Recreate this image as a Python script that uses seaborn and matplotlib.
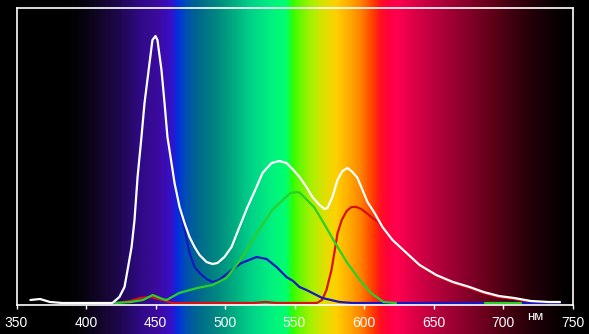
import numpy as np
import matplotlib
matplotlib.use("Agg")
import matplotlib.pyplot as plt
import matplotlib.transforms as mtrans
from matplotlib.colors import to_rgb
import seaborn as sns

# ---------------- data ----------------
tick_values = [350, 400, 450, 500, 550, 600, 650, 700, 750]
tick_labels = ["350", "400", "450", "500", "550", "600", "650", "700", "750"]
unit_label = "нм"

white_nm = [360, 367, 374, 383, 393, 410, 419, 424, 427.7, 429.9,
            432.8, 434.9, 437.1, 439.9, 442.1, 445.7, 447.8, 450, 451.4, 454.3,
            456.5, 458.6, 461.5, 463.7, 467.3, 470.9, 474.5, 478.1, 481.7, 486.7,
            491, 494.6, 499.6, 504.7, 510.4, 516.2, 522.7, 527, 533.5, 539.2,
            544.2, 548.6, 553.6, 558.6, 562.9, 568, 571.6, 573.7, 577.3, 580.9,
            584.5, 588.1, 591.7, 595.3, 598.9, 602.5, 607.6, 613.3, 620.5, 630.6,
            640, 652, 664, 676, 686, 697, 708, 720, 733, 741]
white_val = [4, 5, 2, 1, 1, 1, 1, 7, 17, 34,
             57, 84, 127, 167, 201, 241, 264, 268, 264, 234,
             201, 167, 141, 121, 97, 81, 67, 57, 49, 42,
             40, 41, 47, 57, 77, 97, 117, 131, 141, 143,
             141, 135, 127, 117, 107, 99, 95, 96, 107, 124,
             133, 136, 132, 126, 114, 102, 91, 77, 64, 51,
             39, 29, 22, 17, 12, 8, 6, 3, 2, 2]

blue_nm = [410, 419, 424, 427.7, 429.9, 432.8, 434.9, 437.1, 439.9, 442.1,
           445.7, 447.8, 450, 451.4, 454.3, 456.5, 458.6, 461.5, 463.7, 467.3,
           470.9, 474.5, 478.1, 481.7, 486.7, 491, 495.7, 500.4, 504.7, 511.9,
           522.7, 529.9, 537.1, 544.2, 549, 553.6, 558.6, 570, 582.4, 592,
           620, 680, 741]
blue_val = [0, 0, 6, 16, 33, 56, 83, 126, 166, 200,
            240, 263, 267, 263, 233, 200, 166, 140, 120, 96,
            74, 51, 37, 31, 25, 22, 24, 29, 34, 41,
            47, 45, 37, 27, 23, 17, 14, 6, 2, 1,
            1, 1, 1]

green_nm = [421, 432, 441, 448, 455, 458, 467, 480, 491, 501,
            511, 523, 534, 540, 547, 552, 554, 564, 571, 578,
            588, 597, 605, 614, 623]
green_val = [1, 2, 4, 9, 5, 4, 11, 16, 19, 26,
             44, 71, 94, 102, 111, 112, 111, 97, 81, 64,
             41, 24, 11, 2, 1]
green2_nm = [687, 713]
green2_val = [1, 1]

red_nm = [422, 432, 439, 447, 455, 462, 480, 520, 529, 537,
          560, 566, 569.8, 573, 576.6, 579, 581, 584, 587.5, 591,
          594.6, 598, 601.8, 606, 611, 620.5, 630.6, 640, 652, 664,
          676, 686, 697, 708, 720, 733, 741]
red_val = [1, 3, 6, 7, 4, 1, 1, 1, 2, 1,
           1, 1, 4, 14, 34, 54, 71, 84, 93, 97,
           97, 95, 91, 86, 81, 63, 50, 38, 28, 21,
           16, 11, 7, 5, 2, 1, 1]

# spectrum background stops (wavelength, colour)
spec_nm = [330, 385, 395, 410, 425, 440, 450, 458, 463, 466, 472, 480, 495, 505,
           518, 533, 544, 549, 553, 562, 572, 580, 590, 598, 606, 612, 618, 624,
           635, 648, 662, 677, 692, 706, 718, 728, 740, 750, 770]
spec_col = ["#000000", "#000000", "#050208", "#120628", "#200850", "#300a88", "#3a0a9a",
            "#3c0cb8", "#2a18d0", "#0030e0", "#0050b0", "#00668e", "#008a80", "#00a880",
            "#00d088", "#00f080", "#00ff70", "#30ff00", "#60f800", "#a8f000", "#e0e000",
            "#ffd000", "#ffa800", "#ff8000", "#ff4000", "#ff1020", "#ff0040", "#ff0050",
            "#e00048", "#c00040", "#a00034", "#800028", "#600018", "#400010", "#280008",
            "#180008", "#080000", "#000000", "#000000"]

# ---------------- figure ----------------
W, H = 589, 334
fig = plt.figure(figsize=(W / 100, H / 100), dpi=100, facecolor="black")

px_per_nm = 1.39
x_left_px = 16.5
x0 = 350 - x_left_px / px_per_nm
x1 = 350 + (W - x_left_px) / px_per_nm

bg = fig.add_axes([0, 0, 1, 1])
bg.set_axis_off()
grid = np.linspace(x0, x1, 1500)
rgb = np.array([to_rgb(c) for c in spec_col])
cols = np.stack([np.interp(grid, spec_nm, rgb[:, k]) for k in range(3)], axis=1)
img = np.tile(cols[None, :, :], (2, 1, 1))
bg.imshow(img, extent=[x0, x1, 0, 1], aspect="auto", interpolation="bilinear")
bg.set_xlim(x0, x1)
bg.set_ylim(0, 1)

ax = fig.add_axes([x_left_px / W, 29 / H, 556 / W, 297 / H])
ax.patch.set_alpha(0)

lw = 1.6
kw = dict(lw=lw, ax=ax, solid_joinstyle="round", solid_capstyle="round")
sns.lineplot(x=red_nm, y=red_val, color="#d81010", **kw)
sns.lineplot(x=blue_nm, y=blue_val, color="#1818c0", **kw)
sns.lineplot(x=green_nm, y=green_val, color="#28d028", **kw)
sns.lineplot(x=green2_nm, y=green2_val, color="#28d028", **kw)
sns.lineplot(x=white_nm, y=white_val, color="#ffffff", **kw)

ax.set_xlim(350, 750)
ax.set_ylim(-1, 296)
ax.set_xticks(tick_values)
ax.set_xticklabels(tick_labels, fontfamily="Liberation Sans")
ax.set_yticks([])
ax.set_xlabel("")
ax.set_ylabel("")
ax.tick_params(axis="x", colors="white", length=3, width=1, pad=5, labelsize=10)
for s in ax.spines.values():
    s.set_color("white")
    s.set_linewidth(1.2)

trans = mtrans.blended_transform_factory(ax.transData, ax.transAxes)
ax.text(723.5, -0.04, unit_label, transform=trans, color="white", fontsize=9.5,
        fontfamily="Liberation Sans", ha="center", va="center")

fig.savefig("out.png", dpi=100, facecolor="black")
